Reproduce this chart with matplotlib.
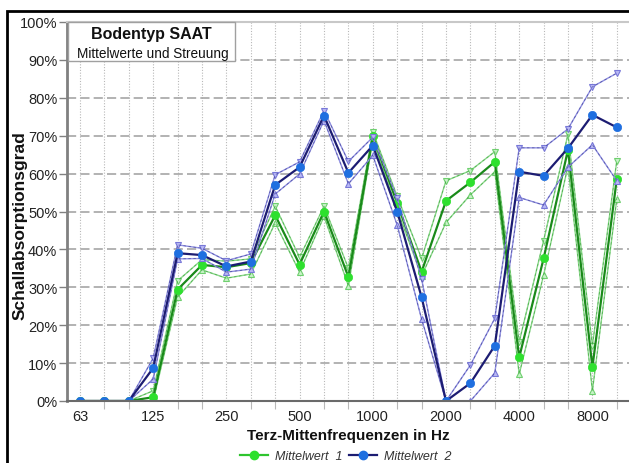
import matplotlib
matplotlib.use("Agg")
import matplotlib.pyplot as plt
from matplotlib.lines import Line2D
from matplotlib.patches import Rectangle
import numpy as np

plt.rcParams['font.family'] = ['Liberation Sans', 'DejaVu Sans']

# Third-octave centre frequencies (Hz)
freqs = ["63", "80", "100", "125", "160", "200", "250", "315", "400", "500",
         "630", "800", "1000", "1250", "1600", "2000", "2500", "3150", "4000",
         "5000", "6300", "8000", "10000"]
labelled = ["63", "125", "250", "500", "1000", "2000", "4000", "8000"]

# Mittelwert 1 (%), with upper / lower scatter bounds
mean1 = [0, 0, 0, 1.0, 29.4, 35.9, 35.3, 36.4, 49.0, 36.0, 50.0, 32.7, 69.8,
         52.2, 34.1, 52.8, 57.7, 63.1, 11.5, 37.6, 66.3, 8.9, 58.6]
upper1 = [0, 0, 0, 2.7, 31.7, 37.3, 36.9, 37.5, 51.4, 37.9, 51.4, 35.0, 71.0,
          54.0, 37.6, 58.1, 60.8, 65.8, 15.6, 42.3, 70.4, 14.6, 63.4]
lower1 = [0, 0, 0, 0, 27.4, 34.6, 32.4, 33.5, 47.0, 34.0, 48.7, 30.4, 68.8,
          50.5, 33.0, 47.1, 54.4, 60.5, 7.1, 33.2, 62.0, 2.7, 53.3]

# Mittelwert 2 (%), with upper / lower scatter bounds
mean2 = [0, 0, 0, 8.7, 39.0, 38.5, 35.5, 36.8, 57.0, 61.7, 75.3, 60.2, 67.4,
         50.0, 27.4, 0, 4.7, 14.6, 60.5, 59.4, 66.7, 75.5, 72.2]
upper2 = [0, 0, 0, 11.3, 41.2, 40.3, 37.0, 38.8, 59.7, 63.1, 76.6, 63.2, 69.6,
          53.5, 32.2, 0, 9.5, 21.8, 66.8, 66.8, 71.8, 82.9, 86.5]
lower2 = [0, 0, 0, 5.8, 37.5, 37.6, 34.0, 34.8, 54.6, 59.9, 74.0, 57.3, 64.8,
          46.4, 21.6, 0, 0, 7.4, 53.7, 51.7, 61.7, 67.6, 58.1]

W, H = 629, 464
fig = plt.figure(figsize=(W / 100, H / 100), dpi=100)

# outer black frame
fig.patches.append(Rectangle((7 / W, -0.1), 1.2, (H - 12) / H + 0.1,
                             transform=fig.transFigure, fill=False,
                             ec='black', lw=2, zorder=0))

step = 24.4
x0 = 80
left_px, right_px = 67, 640
ax = fig.add_axes([left_px / W, (H - 402) / H, (right_px - left_px) / W, 379 / H])
ax.set_xlim((left_px - x0) / step, (right_px - x0) / step)
ax.set_ylim(0, 100)

x = np.arange(len(freqs))

# grid
for xi in x:
    ax.axvline(xi, color='#b8b8b8', lw=0.8, ls=(0, (1, 1.5)), zorder=1)
for yv in range(10, 100, 10):
    ax.axhline(yv, color='#a6a6a6', lw=1.2, ls=(0, (5.5, 2.5)), zorder=1)


def draw_series(mean, up, lo, line_c, mark_c, bound_c, tri_face, tri_edge, z):
    for b, mk in ((up, 'v'), (lo, '^')):
        ax.plot(x, b, color=bound_c, lw=1.0, zorder=z,
                marker=mk, ms=5, mfc=tri_face, mec=tri_edge, mew=0.8)
        ax.plot(x, b, color=line_c, lw=0.6, ls=(0, (3, 3)), alpha=0.5, zorder=z)
    ax.plot(x, mean, color=line_c, lw=1.6, zorder=z + 1,
            marker='o', ms=6, mfc=mark_c, mec=mark_c, mew=0.5)


draw_series(mean1, upper1, lower1, '#1a8a1a', '#2ee02e', '#8ad88a',
            '#c8f2c8', '#6fcf6f', 3)
draw_series(mean2, upper2, lower2, '#1c1c72', '#1f6fe0', '#9090e2',
            '#b8b8f4', '#7878d8', 5)

# axes styling
ax.spines['right'].set_visible(False)
ax.spines['left'].set_color('#808080')
ax.spines['left'].set_linewidth(2)
ax.spines['bottom'].set_color('#6a6a6a')
ax.spines['bottom'].set_linewidth(1.5)
ax.spines['top'].set_color('#c8c8c8')
ax.spines['top'].set_linewidth(1.5)
for s in ax.spines.values():
    s.set_zorder(6)

ax.set_yticks(range(0, 101, 10))
ax.set_yticklabels([f"{v}%" for v in range(0, 101, 10)])
ax.tick_params(axis='y', direction='out', length=5.5, width=1, color='#808080',
               pad=1.5, labelsize=10.5, labelcolor='#222222')

major_idx = [freqs.index(f) for f in labelled]
minor_idx = [i for i in x if i not in major_idx]
ax.set_xticks(major_idx)
ax.set_xticklabels(labelled)
ax.set_xticks(minor_idx, minor=True)
ax.tick_params(axis='x', which='major', length=0, pad=6, labelsize=10.5,
               labelcolor='#222222')
ax.tick_params(axis='x', which='minor', length=6, width=0.8, color='#b8b8b8')

# title box
fig.patches.append(Rectangle((68 / W, (H - 62) / H), (235 - 68) / W, 39 / H,
                             transform=fig.transFigure, fc='white',
                             ec='#a0a0a0', lw=1, zorder=7))
fig.text(151.5 / W, (H - 34) / H, "Bodentyp SAAT", fontsize=11.5,
         fontweight='bold', ha='center', va='center', color='#111111', zorder=8)
fig.text(152.5 / W, (H - 54) / H, "Mittelwerte und Streuung", fontsize=9.8,
         ha='center', va='center', color='#111111', zorder=8)

# axis titles
fig.text(20 / W, (H - 226) / H, "Schallabsorptionsgrad", rotation=90,
         fontsize=12.5, fontweight='bold', ha='center', va='center',
         color='#111111')
fig.text(348 / W, (H - 436) / H, "Terz-Mittenfrequenzen in Hz", fontsize=11,
         fontweight='bold', ha='center', va='center', color='#111111')

# legend
handles = [
    Line2D([], [], color='#2ec42e', lw=1.6, marker='o', ms=6,
           mfc='#2ee02e', mec='#2ee02e'),
    Line2D([], [], color='#1c1c72', lw=1.6, marker='o', ms=6,
           mfc='#1f6fe0', mec='#1f6fe0'),
]
leg = fig.legend(handles, ["Mittelwert  1", "Mittelwert  2"], ncol=2,
                 loc='center', bbox_to_anchor=(346 / W, (H - 457) / H),
                 frameon=False, handlelength=2.2, handletextpad=0.6,
                 columnspacing=0.5, prop={'style': 'italic', 'size': 9})
for t in leg.get_texts():
    t.set_color('#333333')

fig.savefig("out.png", dpi=100)
